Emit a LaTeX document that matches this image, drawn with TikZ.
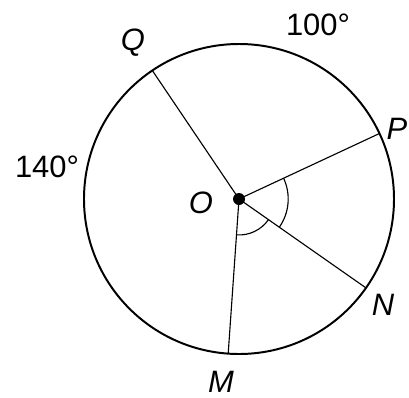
\documentclass[tikz,border=0pt]{standalone}
\usepackage{fontspec}
\setmainfont{Liberation Sans}

\begin{document}
\begin{tikzpicture}[scale=1.0]
  \tikzstyle{rim}=[line width=1.4pt]
  \tikzstyle{spoke}=[line width=0.8pt]
  \tikzstyle{anglearc}=[line width=0.8pt]
  \tikzstyle{L}=[font=\fontsize{22}{22}\selectfont\itshape,inner sep=0pt]
  \tikzstyle{D}=[font=\fontsize{22}{22}\selectfont,inner sep=0pt]
  \useasboundingbox (-5.975,-4.95) rectangle (4.25,4.975);
  \def\R{3.875}

  \coordinate (O) at (0,0);
  \coordinate (Q) at (124:\R);
  \coordinate (P) at (25:\R);
  \coordinate (N) at (-35:\R);
  \coordinate (M) at (-94:\R);

  \draw[rim] (O) circle (\R);
  \draw[spoke] (O) -- (Q);
  \draw[spoke] (O) -- (P);
  \draw[spoke] (O) -- (N);
  \draw[spoke] (O) -- (M);
  \draw[anglearc] (25:1.23) arc (25:-35:1.23);
  \draw[anglearc] (-35:0.9) arc (-35:-94:0.9);
  \fill (O) circle (0.15);

  \node[L] (Olbl) at (-0.95,-0.1) {O};
  \node[L] (Qlbl) at (-2.65,3.9) {Q};
  \node[L] (Plbl) at (3.95,1.75) {P};
  \node[L] (Nlbl) at (3.6,-2.65) {N};
  \node[L] (Mlbl) at (-0.45,-4.575) {M};
  \node[D] (arcQP) at (1.975,4.35) {100°};
  \node[D] (arcQM) at (-4.8,0.8) {140°};
\end{tikzpicture}
\end{document}
